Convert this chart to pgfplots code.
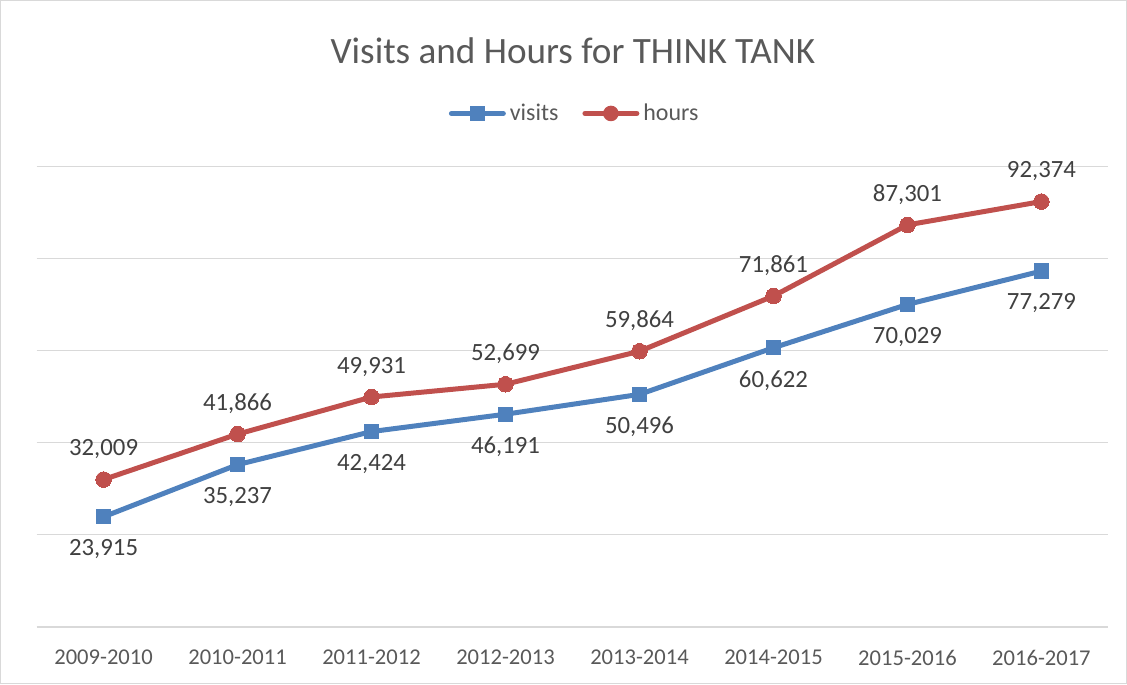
\documentclass[border=0pt]{standalone}
\usepackage{pgfplots}
\pgfplotsset{compat=1.18}
\usepackage{fontspec}
\setmainfont{Carlito}
\definecolor{vblue}{RGB}{79,129,189}
\definecolor{hred}{RGB}{192,80,77}
\definecolor{gridc}{RGB}{217,217,217}
\definecolor{txt}{RGB}{89,89,89}
\definecolor{lbl}{RGB}{64,64,64}
\begin{document}
\begin{tikzpicture}
\draw[gridc, line width=0.6pt] (0,0) rectangle (563.5pt,342pt);
\node[text=txt, font=\fontsize{18.6}{20}\selectfont] at (286.5pt,317pt) {Visits and Hours for THINK TANK};
\begin{axis}[
  at={(18pt,28.5pt)}, anchor=south west,
  scale only axis, width=536.5pt, height=230.5pt,
  xmin=-0.5, xmax=7.5, ymin=0, ymax=100000,
  xtick={0,...,7},
  xticklabels={2009-2010,2010-2011,2011-2012,2012-2013,2013-2014,2014-2015,2015-2016,2016-2017},
  ytick={0,20000,40000,60000,80000,100000},
  yticklabels={}, scaled y ticks=false,
  ymajorgrids, major grid style={gridc, line width=0.6pt},
  axis line style={draw=none},
  major tick length=0pt,
  x tick label style={text=txt, font=\fontsize{11.3}{12}\selectfont, yshift=-8pt},
  clip=false,
  legend columns=2,
  legend style={at={(0.503,1.115)}, anchor=center, draw=none, fill=none,
    font=\fontsize{12}{13}\selectfont, text=txt,
    /tikz/every even column/.append style={column sep=10pt}},
  legend image code/.code={
    \draw[#1, line cap=round, mark=none] (0pt,0pt) -- (26pt,0pt);
    \draw[#1, draw opacity=0] plot coordinates {(13pt,0pt)};
  },
  nodes near coords={\pgfmathprintnumber[fixed, precision=0, 1000 sep={,}, assume math mode=true]{\pgfplotspointmeta}},
  every node near coord/.append style={text=lbl, font=\fontsize{12.4}{13}\selectfont},
]
\addplot[vblue, line width=2.5pt, mark=square*, mark size=3.6pt, mark options={line width=0pt, fill=vblue},
  nodes near coords align={below}, every node near coord/.append style={yshift=-8pt}]
  coordinates {(0,23915) (1,35237) (2,42424) (3,46191) (4,50496) (5,60622) (6,70029) (7,77279)};
\addlegendentry{visits}
\addplot[hred, line width=2.5pt, mark=*, mark size=3.9pt, mark options={line width=0pt, fill=hred},
  nodes near coords align={above}, every node near coord/.append style={yshift=7pt}]
  coordinates {(0,32009) (1,41866) (2,49931) (3,52699) (4,59864) (5,71861) (6,87301) (7,92374)};
\addlegendentry{hours}
\end{axis}
\end{tikzpicture}
\end{document}
